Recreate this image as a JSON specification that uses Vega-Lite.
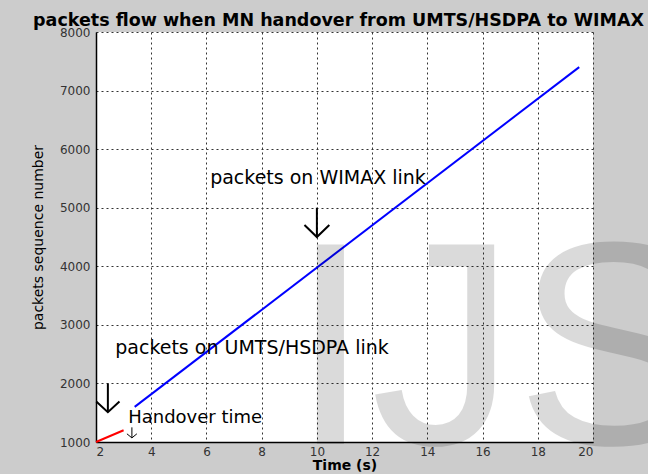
{
  "$schema": "https://vega.github.io/schema/vega-lite/v6.json",
  "width": 497,
  "height": 410,
  "autosize": {"type": "none"},
  "padding": {"left": 96, "top": 32, "right": 55, "bottom": 32},
  "background": "#cccccc",
  "title": {
    "text": "packets flow when MN handover from UMTS/HSDPA to WIMAX",
    "font": "DejaVu Sans",
    "fontSize": 17.5,
    "fontWeight": "bold",
    "color": "#000000",
    "anchor": "middle",
    "offset": 6,
    "dx": -6,
    "dy": 9
  },
  "config": {
    "view": {"fill": "white", "stroke": null},
    "axis": {
      "grid": true,
      "gridColor": "#333333",
      "gridDash": [2, 3],
      "gridWidth": 1,
      "domainColor": "#000000",
      "domainWidth": 1.5,
      "ticks": false,
      "labelFont": "DejaVu Sans",
      "labelFontSize": 12,
      "labelColor": "#333333",
      "titleFont": "DejaVu Sans",
      "titleColor": "#000000",
      "titleFontSize": 14
    }
  },
  "datasets": {
    "lines": [
      {"t": 2, "seq": 1000, "series": "UMTS/HSDPA"},
      {"t": 3, "seq": 1200, "series": "UMTS/HSDPA"},
      {"t": 3.4, "seq": 1600, "series": "WIMAX"},
      {"t": 19.5, "seq": 7400, "series": "WIMAX"}
    ],
    "arrows": [
      {"part": "w-shaft", "k": 1, "t": 10, "seq": 5000, "arrow": "big"},
      {"part": "w-shaft", "k": 2, "t": 10, "seq": 4500, "arrow": "big"},
      {"part": "w-head", "k": 1, "t": 9.55, "seq": 4705, "arrow": "big"},
      {"part": "w-head", "k": 2, "t": 10, "seq": 4500, "arrow": "big"},
      {"part": "w-head", "k": 3, "t": 10.45, "seq": 4705, "arrow": "big"},
      {"part": "u-shaft", "k": 1, "t": 2.43, "seq": 2000, "arrow": "big"},
      {"part": "u-shaft", "k": 2, "t": 2.43, "seq": 1510, "arrow": "big"},
      {"part": "u-head", "k": 1, "t": 2.01, "seq": 1690, "arrow": "big"},
      {"part": "u-head", "k": 2, "t": 2.43, "seq": 1510, "arrow": "big"},
      {"part": "u-head", "k": 3, "t": 2.85, "seq": 1690, "arrow": "big"},
      {"part": "h-shaft", "k": 1, "t": 3.3, "seq": 1250, "arrow": "small"},
      {"part": "h-shaft", "k": 2, "t": 3.3, "seq": 1070, "arrow": "small"},
      {"part": "h-head", "k": 1, "t": 3.12, "seq": 1140, "arrow": "small"},
      {"part": "h-head", "k": 2, "t": 3.3, "seq": 1070, "arrow": "small"},
      {"part": "h-head", "k": 3, "t": 3.48, "seq": 1140, "arrow": "small"}
    ],
    "labels": [
      {"t": 10.04, "seq": 5500, "label": "packets on WIMAX link", "kind": "big"},
      {"t": 7.65, "seq": 2600, "label": "packets on UMTS/HSDPA link", "kind": "big"},
      {"t": 5.59, "seq": 1410, "label": "Handover time", "kind": "small"}
    ],
    "mark": [
      {"t": 9.03, "seq": 966, "label": "IJS"}
    ]
  },
  "layer": [
    {
      "data": {"name": "lines"},
      "mark": {"type": "line", "strokeWidth": 2},
      "encoding": {
        "x": {
          "field": "t",
          "type": "quantitative",
          "scale": {"domain": [2, 20], "nice": false, "zero": false},
          "axis": {
            "title": "Time (s)",
            "titleFontWeight": "bold",
            "values": [2, 4, 6, 8, 10, 12, 14, 16, 18, 20],
            "labelPadding": 4,
            "titlePadding": 1
          }
        },
        "y": {
          "field": "seq",
          "type": "quantitative",
          "scale": {"domain": [1000, 8000], "nice": false, "zero": false},
          "axis": {
            "title": "packets sequence number",
            "titleFontWeight": "normal",
            "format": "d",
            "values": [1000, 2000, 3000, 4000, 5000, 6000, 7000, 8000],
            "labelPadding": 6,
            "titlePadding": 14
          }
        },
        "color": {
          "field": "series",
          "type": "nominal",
          "scale": {"domain": ["UMTS/HSDPA", "WIMAX"], "range": ["#ff0000", "#0000ff"]},
          "legend": null
        }
      }
    },
    {
      "data": {"name": "arrows"},
      "mark": {"type": "line", "color": "#000000"},
      "encoding": {
        "x": {"field": "t", "type": "quantitative"},
        "y": {"field": "seq", "type": "quantitative"},
        "detail": {"field": "part"},
        "order": {"field": "k"},
        "strokeWidth": {
          "field": "arrow",
          "type": "nominal",
          "scale": {"domain": ["big", "small"], "range": [2, 1]},
          "legend": null
        }
      }
    },
    {
      "data": {"name": "labels"},
      "mark": {"type": "text", "font": "DejaVu Sans", "color": "#000000", "baseline": "middle", "align": "center"},
      "encoding": {
        "x": {"field": "t", "type": "quantitative"},
        "y": {"field": "seq", "type": "quantitative"},
        "text": {"field": "label"},
        "size": {
          "field": "kind",
          "type": "nominal",
          "scale": {"domain": ["big", "small"], "range": [19, 18]},
          "legend": null
        }
      }
    },
    {
      "data": {"name": "mark"},
      "mark": {"type": "text", "font": "Liberation Sans", "fontSize": 290, "color": "#000000", "opacity": 0.14, "align": "left", "baseline": "alphabetic"},
      "encoding": {
        "x": {"field": "t", "type": "quantitative"},
        "y": {"field": "seq", "type": "quantitative"},
        "text": {"field": "label"}
      }
    }
  ]
}
